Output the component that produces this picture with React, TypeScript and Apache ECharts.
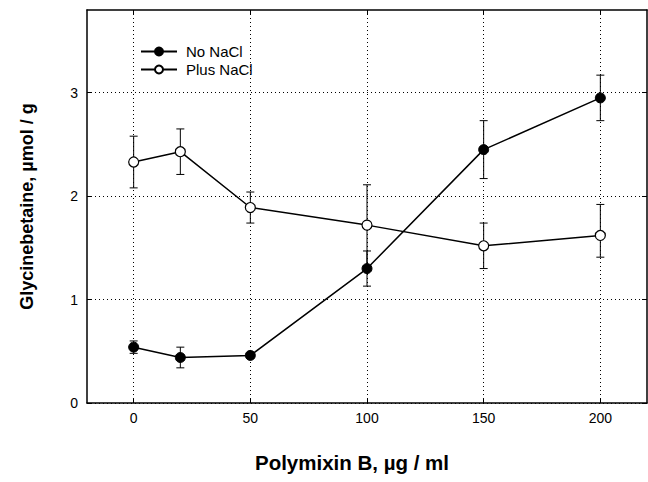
import React, { useEffect, useRef } from "react";
import * as echarts from "echarts";

const xValues = [0, 20, 50, 100, 150, 200];
const noNaCl = [0.54, 0.44, 0.46, 1.3, 2.45, 2.95];
const noNaClErrUp = [0.06, 0.1, 0.02, 0.17, 0.28, 0.22];
const noNaClErrDown = [0.06, 0.1, 0.02, 0.17, 0.28, 0.22];
const plusNaCl = [2.33, 2.43, 1.89, 1.72, 1.52, 1.62];
const plusNaClErrUp = [0.25, 0.22, 0.15, 0.39, 0.22, 0.3];
const plusNaClErrDown = [0.25, 0.22, 0.15, 0.39, 0.22, 0.21];
const xTicks = [0, 50, 100, 150, 200];
const yTicks = [0, 1, 2, 3];

const FONT = "'Liberation Sans', Arial, sans-serif";

function errData(vals: number[], up: number[], down: number[]) {
  return xValues.map((x, i) => [x, vals[i] - down[i], vals[i] + up[i]]);
}

function errRender(params: any, api: any) {
  const x = api.value(0);
  const lo = api.coord([x, api.value(1)]);
  const hi = api.coord([x, api.value(2)]);
  const w = 4;
  const st = { stroke: "#000", lineWidth: 1 };
  return {
    type: "group",
    children: [
      { type: "line", shape: { x1: hi[0], y1: hi[1], x2: lo[0], y2: lo[1] }, style: st },
      { type: "line", shape: { x1: hi[0] - w, y1: hi[1], x2: hi[0] + w, y2: hi[1] }, style: st },
      { type: "line", shape: { x1: lo[0] - w, y1: lo[1], x2: lo[0] + w, y2: lo[1] }, style: st },
    ],
  };
}

export default function App() {
  const ref = useRef<HTMLDivElement>(null);
  useEffect(() => {
    if (!ref.current) return;
    const chart = echarts.init(ref.current, undefined, { renderer: "svg" });
    const axisLine = { show: true, onZero: false, lineStyle: { color: "#000", width: 1.5 } };
    const tickStyle = { show: true, inside: true, length: 5, lineStyle: { color: "#000", width: 1 } };
    const gridLine = { show: true, lineStyle: { color: "#000", width: 1, type: [1, 3] as any } };
    chart.setOption({
      animation: false,
      backgroundColor: "#fff",
      grid: { left: 87, right: 1, top: 10, bottom: 79, containLabel: false },
      legend: {
        orient: "vertical",
        left: 140,
        top: 44,
        padding: 0,
        itemWidth: 36,
        itemHeight: 10,
        itemGap: 3,
        textStyle: { fontFamily: FONT, fontSize: 15, color: "#000", padding: [0, 0, 0, 4] },
        data: ["No NaCl", "Plus NaCl"],
      },
      xAxis: [
        {
          type: "value",
          min: -20,
          max: 220,
          position: "bottom",
          axisLine,
          axisTick: { ...tickStyle, customValues: xTicks },
          axisLabel: { customValues: xTicks, fontFamily: FONT, fontSize: 14, color: "#000", margin: 8 },
          splitLine: gridLine,
          name: "Polymixin B, \u00b5g / ml",
          nameLocation: "middle",
          nameGap: 49,
          nameTextStyle: {
            fontFamily: FONT,
            fontSize: 20.5,
            fontWeight: "bold",
            color: "#000",
            padding: [0, 30, 0, 0],
          },
        },
        {
          type: "value",
          min: -20,
          max: 220,
          position: "top",
          axisLine,
          axisTick: { ...tickStyle, customValues: xTicks },
          axisLabel: { show: false },
          splitLine: { show: false },
        },
      ],
      yAxis: [
        {
          type: "value",
          min: 0,
          max: 3.8,
          interval: 1,
          position: "left",
          axisLine,
          axisTick: { ...tickStyle, customValues: yTicks },
          axisLabel: { customValues: yTicks, fontFamily: FONT, fontSize: 14, color: "#000", margin: 9 },
          splitLine: gridLine,
          name: "Glycinebetaine, \u00b5mol / g",
          nameLocation: "middle",
          nameGap: 51,
          nameTextStyle: { fontFamily: FONT, fontSize: 18, fontWeight: "bold", color: "#000" },
        },
        {
          type: "value",
          min: 0,
          max: 3.8,
          interval: 1,
          position: "right",
          axisLine,
          axisTick: { ...tickStyle, customValues: yTicks },
          axisLabel: { show: false },
          splitLine: { show: false },
        },
      ],
      series: [
        {
          type: "custom",
          name: "errNo",
          renderItem: errRender,
          data: errData(noNaCl, noNaClErrUp, noNaClErrDown),
          z: 1,
          silent: true,
        },
        {
          type: "custom",
          name: "errPlus",
          renderItem: errRender,
          data: errData(plusNaCl, plusNaClErrUp, plusNaClErrDown),
          z: 1,
          silent: true,
        },
        {
          type: "line",
          name: "No NaCl",
          data: xValues.map((x, i) => [x, noNaCl[i]]),
          symbol: "circle",
          symbolSize: 10,
          lineStyle: { color: "#000", width: 1.5 },
          itemStyle: { color: "#000", borderColor: "#000", borderWidth: 1 },
          z: 3,
        },
        {
          type: "line",
          name: "Plus NaCl",
          data: xValues.map((x, i) => [x, plusNaCl[i]]),
          symbol: "circle",
          symbolSize: 10,
          lineStyle: { color: "#000", width: 1.5 },
          itemStyle: { color: "#fff", borderColor: "#000", borderWidth: 1.2 },
          z: 3,
        },
      ],
    });
    return () => chart.dispose();
  }, []);
  return (
    <div
      ref={ref}
      style={{ position: "fixed", left: 0, top: 0, width: 648, height: 482, background: "#fff" }}
    />
  );
}
